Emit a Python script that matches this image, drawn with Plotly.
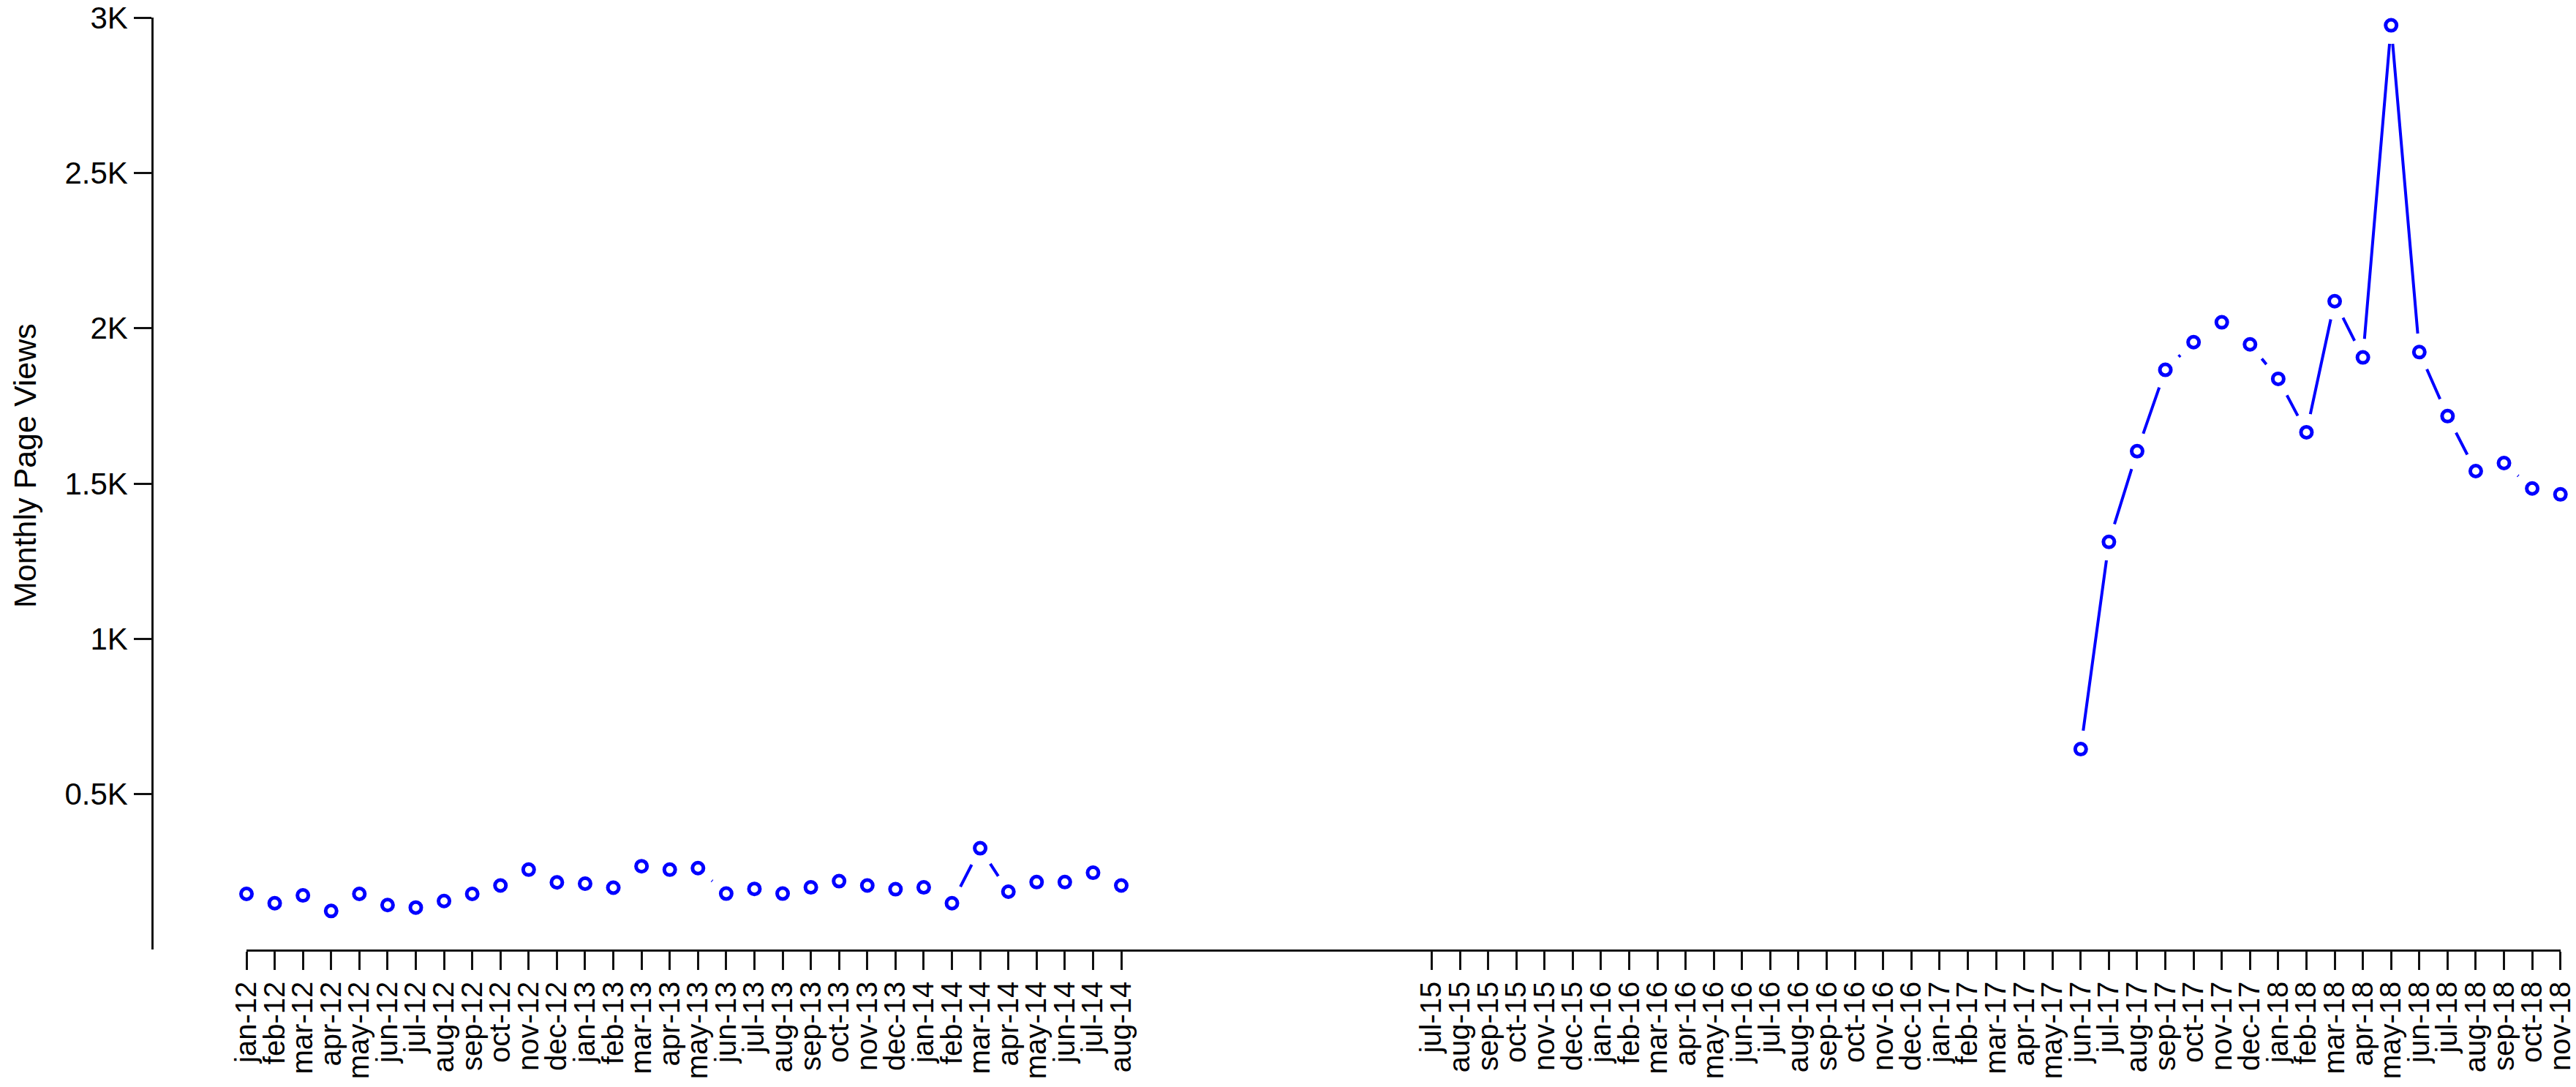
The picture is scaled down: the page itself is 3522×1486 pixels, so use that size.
import plotly.graph_objects as go

MONTHS = ["jan", "feb", "mar", "apr", "may", "jun", "jul", "aug", "sep", "oct", "nov", "dec"]

# Labelled months on the x axis
tick_labels = [
    "jan-12", "feb-12", "mar-12", "apr-12", "may-12", "jun-12", "jul-12", "aug-12",
    "sep-12", "oct-12", "nov-12", "dec-12", "jan-13", "feb-13", "mar-13", "apr-13",
    "may-13", "jun-13", "jul-13", "aug-13", "sep-13", "oct-13", "nov-13", "dec-13",
    "jan-14", "feb-14", "mar-14", "apr-14", "may-14", "jun-14", "jul-14", "aug-14",
    "jul-15", "aug-15", "sep-15", "oct-15", "nov-15", "dec-15", "jan-16", "feb-16",
    "mar-16", "apr-16", "may-16", "jun-16", "jul-16", "aug-16", "sep-16", "oct-16",
    "nov-16", "dec-16", "jan-17", "feb-17", "mar-17", "apr-17", "may-17", "jun-17",
    "jul-17", "aug-17", "sep-17", "oct-17", "nov-17", "dec-17", "jan-18", "feb-18",
    "mar-18", "apr-18", "may-18", "jun-18", "jul-18", "aug-18", "sep-18", "oct-18",
    "nov-18",
]

# Series 1: jan-12 .. aug-14
months_a = tick_labels[:32]
views_a = [179, 149, 174, 124, 179, 143, 135, 156, 179, 206, 257, 216,
           212, 199, 268, 257, 262, 180, 195, 180, 200, 220, 206, 194,
           200, 149, 326, 186, 217, 217, 247, 206]

# Series 2: jun-17 .. nov-18
months_b = ["jun-17", "jul-17", "aug-17", "sep-17", "oct-17", "nov-17", "dec-17",
            "jan-18", "feb-18", "mar-18", "apr-18", "may-18", "jun-18", "jul-18",
            "aug-18", "sep-18", "oct-18", "nov-18"]
views_b = [645, 1312, 1604, 1866, 1955, 2019, 1948, 1837, 1665, 2087, 1906, 2975,
           1923, 1717, 1540, 1566, 1484, 1465]

y_tickvals = [500, 1000, 1500, 2000, 2500, 3000]
y_ticktext = ["0.5K", "1K", "1.5K", "2K", "2.5K", "3K"]


def month_index(lbl):
    m, y = lbl.split("-")
    return (int(y) - 12) * 12 + MONTHS.index(m)


W, H = 3522, 1486
BLUE = "#0000FF"
FONT = "Liberation Sans, Arial, sans-serif"

fig = go.Figure()
for months, views in [(months_a, views_a), (months_b, views_b)]:
    xs = [month_index(m) for m in months]
    fig.add_trace(go.Scatter(x=xs, y=views, mode="lines",
                             line=dict(color=BLUE, width=4),
                             cliponaxis=False, hoverinfo="skip"))
for months, views in [(months_a, views_a), (months_b, views_b)]:
    xs = [month_index(m) for m in months]
    fig.add_trace(go.Scatter(x=xs, y=views, mode="markers",
                             marker=dict(symbol="circle", size=51, color="white",
                                         line=dict(width=0)),
                             cliponaxis=False, hoverinfo="skip"))
for months, views in [(months_a, views_a), (months_b, views_b)]:
    xs = [month_index(m) for m in months]
    fig.add_trace(go.Scatter(x=xs, y=views, mode="markers",
                             marker=dict(symbol="circle-open", size=15, color=BLUE,
                                         line=dict(width=5, color=BLUE)),
                             cliponaxis=False, text=months))

x_first = month_index(tick_labels[0])
x_last = month_index(tick_labels[-1])

fig.update_layout(
    width=W, height=H,
    margin=dict(l=0, r=0, t=24, b=188),
    paper_bgcolor="white", plot_bgcolor="white",
    showlegend=False,
    font=dict(family=FONT, color="black"),
    xaxis=dict(
        domain=[337 / W, 3500.7 / W],
        range=[x_first, x_last],
        showline=True, linecolor="#111", linewidth=2.5,
        ticks="outside", ticklen=25, tickwidth=2.5, tickcolor="#111",
        tickmode="array",
        tickvals=[month_index(t) for t in tick_labels],
        ticktext=tick_labels,
        tickangle=-90,
        tickfont=dict(size=40, family=FONT, color="black"),
        showgrid=False, zeroline=False, automargin=False,
    ),
    yaxis=dict(
        range=[0, 3000],
        anchor="free", position=208 / W,
        showline=True, linecolor="#111", linewidth=2.5,
        ticks="outside", ticklen=24, tickwidth=2.5, tickcolor="#111",
        tickmode="array", tickvals=y_tickvals, ticktext=y_ticktext,
        tickfont=dict(size=42, family=FONT, color="black"),
        showgrid=False, zeroline=False, automargin=False,
    ),
    annotations=[dict(
        text="Monthly Page Views", textangle=-90,
        xref="paper", yref="paper",
        x=34 / W, y=(1298 - 637) / 1274,
        xanchor="center", yanchor="middle",
        showarrow=False,
        font=dict(size=43, family=FONT, color="black"),
    )],
)

fig.write_html("out.html",
               config={"displayModeBar": False},
               post_script="document.body.style.margin='0px';document.body.style.overflow='hidden';")
